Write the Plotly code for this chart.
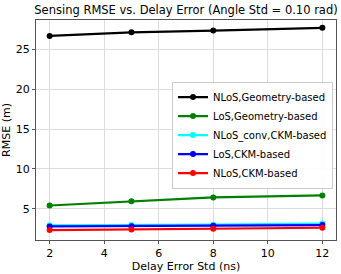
import plotly.graph_objects as go

delay_std = [2, 5, 8, 12]
nlos_geo = [26.7, 27.15, 27.37, 27.72]
los_geo = [5.41, 5.95, 6.42, 6.68]
nlos_conv_ckm = [2.92, 2.95, 3.0, 3.15]
los_ckm = [2.78, 2.82, 2.86, 2.95]
nlos_ckm = [2.33, 2.41, 2.5, 2.62]

series = [
    ("NLoS,Geometry-based", nlos_geo, "#000000"),
    ("LoS,Geometry-based", los_geo, "#008000"),
    ("NLoS_conv,CKM-based", nlos_conv_ckm, "#00FFFF"),
    ("LoS,CKM-based", los_ckm, "#0000FF"),
    ("NLoS,CKM-based", nlos_ckm, "#FF0000"),
]

fig = go.Figure()
for name, vals, color in series:
    fig.add_trace(go.Scatter(
        x=delay_std, y=vals, name=name, mode="lines+markers",
        line=dict(color=color, width=2.2),
        marker=dict(color=color, size=6),
    ))

font = "DejaVu Sans"
fig.update_layout(
    width=341, height=274,
    margin=dict(l=36, r=5, t=20, b=34, autoexpand=False),
    paper_bgcolor="white", plot_bgcolor="white",
    font=dict(family=font, size=11, color="black"),
    title=dict(text="Sensing RMSE vs. Delay Error (Angle Std = 0.10 rad)",
               x=0.5, xref="paper", xanchor="center", y=0.965, yanchor="middle",
               font=dict(family=font, size=11.5, color="black")),
    showlegend=True,
    legend=dict(x=0.99, y=0.72, xanchor="right", yanchor="top",
                bgcolor="rgba(255,255,255,0.9)", bordercolor="#cccccc", borderwidth=1,
                font=dict(family=font, size=10), itemwidth=30,
                tracegroupgap=0),
)
fig.update_xaxes(
    range=[1.5, 12.5], tickvals=[2, 4, 6, 8, 10, 12],
    showgrid=True, gridcolor="#dddddd", gridwidth=1,
    showline=True, linecolor="#555555", linewidth=1, mirror=True,
    ticks="outside", ticklen=3, tickcolor="#555555", zeroline=False,
    title=dict(text="Delay Error Std (ns)", standoff=0, font=dict(size=11)),
    tickfont=dict(size=11), automargin=False,
)
fig.update_yaxes(
    range=[1.08, 28.7], tickvals=[5, 10, 15, 20, 25],
    showgrid=True, gridcolor="#dddddd", gridwidth=1,
    showline=True, linecolor="#555555", linewidth=1, mirror=True,
    ticks="outside", ticklen=3, tickcolor="#555555", zeroline=False,
    title=dict(text="RMSE (m)", standoff=2, font=dict(size=11)),
    tickfont=dict(size=11), automargin=False,
)

fig.write_html("out.html", config={"displayModeBar": False},
               post_script="document.body.style.margin='0px';document.body.style.padding='0px';")
